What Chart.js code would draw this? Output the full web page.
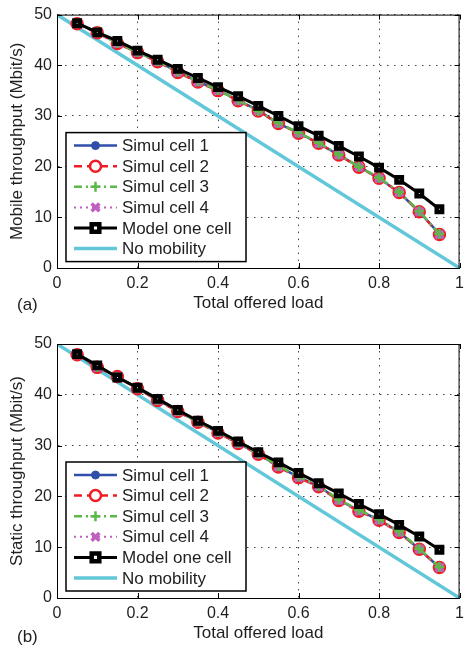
<!DOCTYPE html>
<html>
<head>
<meta charset="utf-8">
<script src="https://cdn.jsdelivr.net/npm/chart.js@4.4.1/dist/chart.umd.min.js"></script>
<style>
    body { margin: 0; background: #fff; }
    #wrap { position: relative; width: 470px; height: 648px; overflow: hidden; }
    canvas { position: absolute; left: 0; }
    .tag { position: absolute; left: 17px; font: 17px "Liberation Sans", Arial, sans-serif; color: #222; }
</style>
</head>
<body>
<div id="wrap">
    <canvas id="chart-a" width="470" height="320" style="top:0"></canvas>
    <canvas id="chart-b" width="470" height="328" style="top:320px"></canvas>
    <div class="tag" style="top:295px">(a)</div>
    <div class="tag" style="top:627px">(b)</div>
</div>
<script>
// Data
const loads = [0.05, 0.10, 0.15, 0.20, 0.25, 0.30, 0.35, 0.40, 0.45, 0.50,
               0.55, 0.60, 0.65, 0.70, 0.75, 0.80, 0.85, 0.90, 0.95];
const xTicks = [0, 0.2, 0.4, 0.6, 0.8, 1];
const yTicks = [0, 10, 20, 30, 40, 50];
const seriesNames = ['Simul cell 1', 'Simul cell 2', 'Simul cell 3', 'Simul cell 4', 'Model one cell', 'No mobility'];

// (a) Mobile throughput
const mobileCell1 = [48.3, 46.5, 44.4, 42.6, 40.8, 38.7, 36.8, 35.1, 33.1, 31.1, 28.5, 26.7, 24.6, 22.3, 20.0, 17.7, 14.9, 11.1, 6.7];
const mobileCell2 = [48.2, 46.4, 44.3, 42.5, 40.7, 38.6, 36.7, 35.0, 33.0, 31.0, 28.5, 26.6, 24.6, 22.3, 19.9, 17.7, 14.9, 11.1, 6.6];
const mobileCell3 = [48.3, 46.5, 44.4, 42.6, 40.8, 38.7, 36.8, 35.1, 33.1, 31.0, 28.6, 26.7, 24.7, 22.4, 20.0, 17.8, 15.0, 11.2, 6.7];
const mobileCell4 = [48.2, 46.4, 44.3, 42.5, 40.7, 38.6, 36.7, 35.0, 33.0, 31.0, 28.5, 26.6, 24.6, 22.3, 19.9, 17.7, 14.9, 11.1, 6.6];
const mobileModel = [48.3, 46.5, 44.8, 42.9, 41.1, 39.3, 37.5, 35.7, 33.9, 32.0, 30.0, 28.0, 26.1, 24.1, 22.0, 19.8, 17.4, 14.7, 11.6];

// (b) Static throughput
const staticCell1 = [48.0, 45.5, 43.6, 41.3, 39.0, 36.8, 34.7, 32.6, 30.5, 28.4, 25.9, 23.8, 22.0, 19.3, 17.2, 15.4, 13.0, 9.6, 6.0];
const staticCell2 = [47.9, 45.4, 43.6, 41.2, 38.9, 36.7, 34.6, 32.5, 30.4, 28.3, 25.8, 23.7, 21.9, 19.2, 17.1, 15.3, 12.9, 9.6, 6.0];
const staticCell3 = [48.0, 45.5, 43.5, 41.3, 39.0, 36.8, 34.7, 32.7, 30.5, 28.4, 26.0, 23.9, 22.0, 19.4, 17.3, 15.5, 13.1, 9.7, 6.1];
const staticCell4 = [47.9, 45.4, 43.6, 41.2, 38.9, 36.7, 34.6, 32.5, 30.4, 28.3, 25.8, 23.7, 21.9, 19.2, 17.1, 15.3, 12.9, 9.6, 6.0];
const staticModel = [48.0, 45.8, 43.4, 41.4, 39.2, 37.0, 34.9, 32.9, 30.8, 28.7, 26.7, 24.6, 22.6, 20.6, 18.5, 16.5, 14.4, 12.1, 9.5];

// No mobility reference line
const noMobilityX = [0, 1];
const noMobilityY = [50, 0];

const FONT = '"Liberation Sans", Arial, sans-serif';
const TEXT = '#1e1e1e';

function toPoints(xs, ys) {
    return xs.map((x, i) => ({ x: x, y: ys[i] }));
}

// marker drawing for the legend samples
function drawMarker(ctx, style, x, y, r, fill, stroke, width) {
    ctx.save();
    ctx.setLineDash([]);
    ctx.lineWidth = width;
    ctx.strokeStyle = stroke;
    ctx.fillStyle = fill;
    ctx.beginPath();
    if (style === 'circle') {
        ctx.arc(x, y, r, 0, Math.PI * 2);
        ctx.fill();
        ctx.stroke();
    } else if (style === 'rect') {
        ctx.rect(x - r, y - r, r * 2, r * 2);
        ctx.fill();
        ctx.stroke();
    } else if (style === 'cross') {
        ctx.moveTo(x - r, y); ctx.lineTo(x + r, y);
        ctx.moveTo(x, y - r); ctx.lineTo(x, y + r);
        ctx.stroke();
    } else if (style === 'crossRot') {
        const d = r * 0.7071;
        ctx.moveTo(x - d, y - d); ctx.lineTo(x + d, y + d);
        ctx.moveTo(x + d, y - d); ctx.lineTo(x - d, y + d);
        ctx.stroke();
    }
    ctx.restore();
}

// box + inward tick marks on all four sides (MATLAB style)
const framePlugin = {
    id: 'frame',
    afterDatasetsDraw(chart) {
        const { ctx, chartArea: a, scales } = chart;
        ctx.save();
        ctx.strokeStyle = '#000';
        ctx.lineWidth = 1;
        ctx.setLineDash([]);
        ctx.strokeRect(a.left + 0.5, a.top + 0.5, a.right - a.left - 1, a.bottom - a.top);
        ctx.beginPath();
        scales.x.ticks.forEach(t => {
            const px = Math.round(scales.x.getPixelForValue(t.value)) + 0.5;
            ctx.moveTo(px, a.bottom); ctx.lineTo(px, a.bottom - 5);
            ctx.moveTo(px, a.top); ctx.lineTo(px, a.top + 5);
        });
        scales.y.ticks.forEach(t => {
            const py = Math.round(scales.y.getPixelForValue(t.value)) + 0.5;
            ctx.moveTo(a.left, py); ctx.lineTo(a.left + 5, py);
            ctx.moveTo(a.right, py); ctx.lineTo(a.right - 5, py);
        });
        ctx.stroke();
        ctx.restore();
    }
};

// legend box inside the plot area, lower left
const boxLegendPlugin = {
    id: 'boxLegend',
    afterDraw(chart) {
        const { ctx, chartArea: a } = chart;
        const bx = a.left + 9, by = a.top + 118, bw = 180, bh = 129;
        ctx.save();
        ctx.fillStyle = '#fff';
        ctx.fillRect(bx, by, bw, bh);
        ctx.strokeStyle = '#000';
        ctx.lineWidth = 1.5;
        ctx.setLineDash([]);
        ctx.strokeRect(bx, by, bw, bh);
        chart.data.datasets.forEach((ds, i) => {
            const y = by + 13 + i * 20.6;
            const x0 = bx + 8, x1 = bx + 51;
            ctx.save();
            ctx.strokeStyle = ds.borderColor;
            ctx.lineWidth = ds.borderWidth;
            ctx.setLineDash(ds.borderDash || []);
            ctx.beginPath();
            ctx.moveTo(x0, y); ctx.lineTo(x1, y);
            ctx.stroke();
            ctx.restore();
            if (ds.pointRadius > 0) {
                drawMarker(ctx, ds.pointStyle, (x0 + x1) / 2, y, ds.legendRadius || ds.pointRadius,
                    ds.legendFill || ds.pointBackgroundColor, ds.pointBorderColor, ds.pointBorderWidth);
            }
            ctx.fillStyle = TEXT;
            ctx.font = '17px ' + FONT;
            ctx.textAlign = 'left';
            ctx.textBaseline = 'middle';
            ctx.fillText(seriesNames[i], bx + 56, y + 1);
        });
        ctx.restore();
    }
};

function buildDatasets(c1, c2, c3, c4, model) {
    return [
        {
            data: toPoints(loads, c1), borderColor: '#2f4fa8', borderWidth: 2.5,
            pointStyle: 'circle', pointRadius: 4, pointBackgroundColor: '#2f4fa8',
            pointBorderColor: '#2f4fa8', pointBorderWidth: 1, order: 6
        },
        {
            data: toPoints(loads, c2), borderColor: '#ee1c24', borderWidth: 2.5, borderDash: [8, 5],
            pointStyle: 'circle', pointRadius: 5.5, pointBackgroundColor: '#b45db8',
            legendFill: '#fff', pointBorderColor: '#ee1c24', pointBorderWidth: 2.5, order: 5
        },
        {
            data: toPoints(loads, c3), borderColor: '#5cb848', borderWidth: 2.5, borderDash: [8, 4, 2, 4],
            pointStyle: 'cross', pointRadius: 5, pointBackgroundColor: '#5cb848',
            pointBorderColor: '#5cb848', pointBorderWidth: 2.5, order: 3
        },
        {
            data: toPoints(loads, c4), borderColor: '#c05fbf', borderWidth: 2, borderDash: [2, 4],
            pointStyle: 'crossRot', pointRadius: 5.5, pointBackgroundColor: '#c05fbf',
            pointBorderColor: '#c05fbf', pointBorderWidth: 3.5, order: 4
        },
        {
            data: toPoints(loads, model), borderColor: '#000', borderWidth: 3,
            pointStyle: 'rect', pointRadius: 3.8, legendRadius: 3.8, pointBackgroundColor: '#fff',
            pointBorderColor: '#000', pointBorderWidth: 4.5, order: 2
        },
        {
            data: toPoints(noMobilityX, noMobilityY), borderColor: '#62c7d8', borderWidth: 3.5,
            pointRadius: 0, order: 7
        }
    ];
}

function makeChart(id, yTitle, topPad, bottomPad, datasets) {
    const ctx = document.getElementById(id).getContext('2d');
    return new Chart(ctx, {
        type: 'line',
        data: { datasets: datasets },
        options: {
            responsive: false,
            animation: false,
            layout: { padding: { top: topPad, left: 0, right: 2, bottom: bottomPad } },
            plugins: { legend: { display: false }, tooltip: { enabled: false } },
            elements: { line: { tension: 0 } },
            scales: {
                x: {
                    type: 'linear', min: 0, max: 1,
                    afterBuildTicks: s => { s.ticks = xTicks.map(v => ({ value: v })); },
                    afterFit: s => { s.height = 48; },
                    ticks: {
                        color: TEXT, font: { family: FONT, size: 16 }, padding: 6,
                        maxRotation: 0, autoSkip: false,
                        callback: v => String(+v.toFixed(1))
                    },
                    grid: { color: '#444', lineWidth: 1, drawTicks: false },
                    border: { color: '#000', dash: [1.5, 5.5] },
                    title: {
                        display: true, text: 'Total offered load', color: TEXT,
                        font: { family: FONT, size: 17 }, padding: { top: 0, bottom: 2 }
                    }
                },
                y: {
                    min: 0, max: 50,
                    afterBuildTicks: s => { s.ticks = yTicks.map(v => ({ value: v })); },
                    afterFit: s => { s.width = 57; },
                    ticks: { color: TEXT, font: { family: FONT, size: 16 }, padding: 5 },
                    grid: { color: '#444', lineWidth: 1, drawTicks: false },
                    border: { color: '#000', dash: [1.5, 5.5] },
                    title: {
                        display: true, text: yTitle, color: TEXT,
                        font: { family: FONT, size: 17 }, padding: { top: 7, bottom: 0 }
                    }
                }
            }
        },
        plugins: [framePlugin, boxLegendPlugin]
    });
}

makeChart('chart-a', 'Mobile throughput (Mbit/s)', 14, 4,
    buildDatasets(mobileCell1, mobileCell2, mobileCell3, mobileCell4, mobileModel));
makeChart('chart-b', 'Static throughput (Mbit/s)', 24, 2,
    buildDatasets(staticCell1, staticCell2, staticCell3, staticCell4, staticModel));
</script>
</body>
</html>
